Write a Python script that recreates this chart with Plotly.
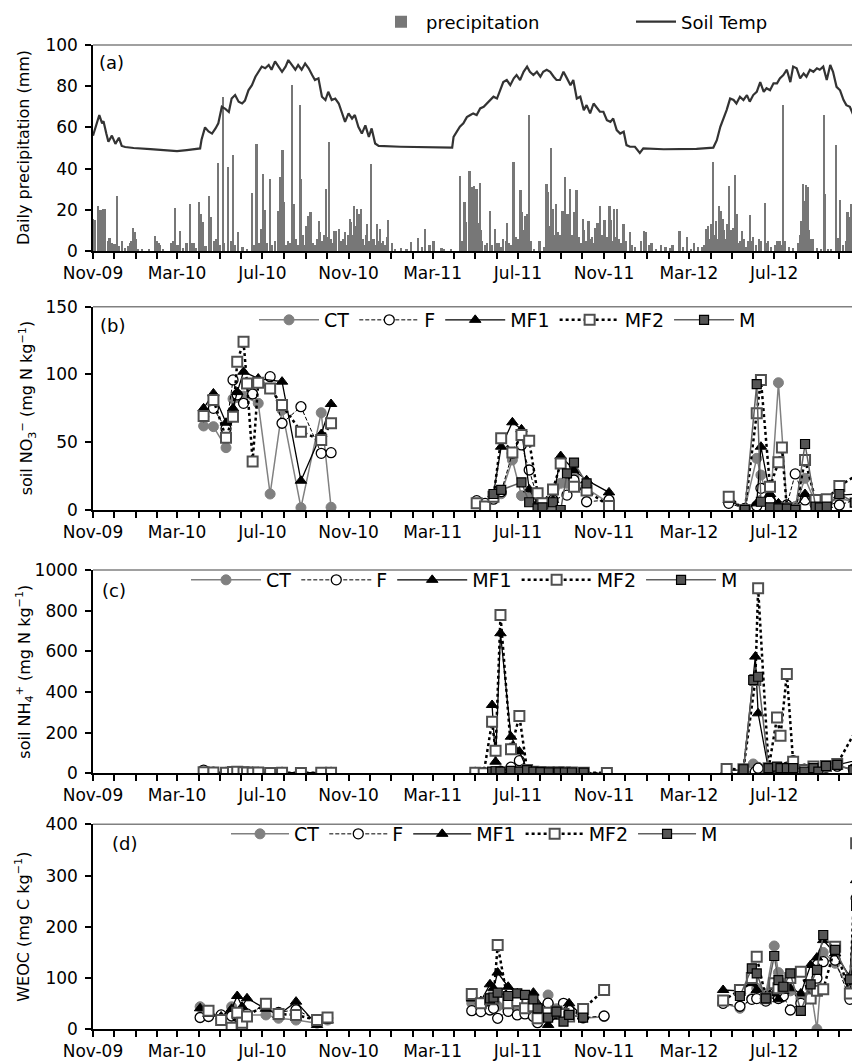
import plotly.graph_objects as go
import pandas as pd

START = pd.Timestamp("2009-11-01")
END = "2012-10-31 12:00"

# ---------------- Panel (a): daily precipitation & soil temperature ----------------
# days since 2009-11-01
precip_day = [0, 3, 7, 11, 15, 17, 18, 22, 24, 27, 29, 31, 35, 38, 42, 46, 50, 53, 55, 58, 60, 62, 64, 70, 80,
              89, 91, 94, 96, 100, 112, 115, 118, 121, 125, 129, 134, 139, 142, 145, 148, 152, 155, 158, 161,
              166, 169, 173, 176, 179, 181, 186, 188, 193, 197, 200, 203, 208, 214, 220, 228, 231, 234, 238,
              240, 243, 246, 249, 253, 256, 260, 265, 268, 271, 273, 276, 279, 281, 284, 285, 288, 290, 293,
              296, 298, 300, 302, 305, 307, 309, 311, 314, 317, 320, 323, 325, 328, 330, 333, 336, 338, 340,
              343, 345, 348, 352, 355, 357, 360, 363, 365, 367, 369, 371, 373, 375, 377, 378, 380, 383, 386,
              388, 390, 392, 395, 398, 401, 403, 406, 408, 410, 412, 415, 418, 420, 422, 427, 432, 440, 448,
              455, 465, 470, 475, 481, 486, 487, 498, 501, 512, 524, 527, 531, 533, 538, 541, 544, 546, 548,
              550, 553, 555, 556, 560, 563, 567, 570, 575, 578, 580, 583, 586, 590, 592, 594, 597, 601, 603,
              605, 608, 611, 613, 615, 617, 619, 621, 623, 626, 630, 638, 645, 648, 650, 652, 654, 657, 659,
              662, 664, 667, 669, 671, 673, 675, 678, 680, 682, 684, 687, 689, 691, 693, 695, 698, 700, 702,
              705, 708, 710, 713, 716, 718, 721, 723, 725, 728, 731, 734, 736, 738, 740, 742, 744, 746, 749,
              752, 755, 758, 760, 762, 767, 770, 774, 783, 787, 790, 795, 798, 805, 812, 818, 824, 828, 838,
              843, 849, 854, 859, 864, 870, 873, 876, 879, 881, 883, 886, 888, 890, 892, 894, 897, 900, 902,
              904, 906, 908, 909, 912, 914, 917, 920, 922, 924, 927, 930, 933, 936, 939, 941, 943, 947, 952,
              955, 960, 962, 964, 969, 975, 978, 981, 984, 986, 989, 994, 1000, 1007, 1010, 1012, 1014, 1016,
              1017, 1019, 1021, 1023, 1025, 1028, 1034, 1040, 1045, 1046, 1050, 1055, 1061, 1064, 1067, 1071,
              1076, 1078, 1081, 1083, 1086, 1089, 1091, 1094]
precip_mm = [15.4, 15, 22, 19.8, 20.3, 14, 20.3, 5, 6.5, 4, 2.5, 3.5, 26.8, 2.5, 5, 1.5, 2.5, 4, 5, 11, 9, 5.7, 1, 0.5, 0.5,
             7.3, 5, 4, 3, 1, 4, 5, 21, 3, 9.8, 1.5, 4, 23, 4, 4, 1.5, 23.6, 18, 14, 2.5,
             26.8, 16.3, 5, 6, 42.5, 3, 75, 4, 41, 5, 46.5, 3, 9, 2, 1, 28, 3, 52, 4,
             10.6, 37.6, 20, 4, 35, 3, 5, 19.5, 35.8, 49, 24, 3, 5, 4, 48, 80.5, 22.8, 6, 3,
             70.7, 35, 8, 3, 12, 17, 6, 18.7, 4, 3, 6, 14.6, 9, 5, 8, 30, 7, 52.8, 6,
             4, 9.8, 9.8, 10.6, 5, 6, 9, 3, 8, 15.4, 14, 8, 22, 12, 20.3, 9, 18, 20.3, 6,
             3, 8, 13, 5, 42, 6, 3, 13, 5, 10.6, 4, 5, 3, 7, 15, 4, 1, 1.3, 1,
             4.4, 6.5, 2, 10.6, 3, 4.9, 5, 1.6, 1, 0.5, 36.6, 5, 24, 14, 39, 31, 31.7, 20, 30,
             13.8, 32.8, 10, 5, 3, 4, 19.5, 3, 10.6, 4, 4, 2, 6, 5, 13.8, 4, 3, 43.4, 4,
             7, 6, 29.6, 18.7, 10, 17, 8, 17.9, 66, 5, 1, 5, 2, 32.5, 28.5, 12, 50, 20.3, 8,
             22.8, 9, 8, 6, 19.5, 15, 36, 17.9, 10, 30, 8, 18.7, 10, 29.6, 6, 7, 4, 15.4, 10,
             5, 14.6, 6, 7, 4, 11, 13.8, 5, 22, 8, 15, 7, 5, 22, 15, 5, 20.3, 7, 20.3,
             6, 4, 13.3, 5, 5, 9, 3, 2, 5, 9.8, 9, 3, 4, 1, 3, 2, 1.5, 3, 9.8,
             2, 7, 1, 4, 2, 2, 3, 10.6, 12, 6, 13, 43.4, 8, 14.6, 6, 22, 19.5, 15.4, 10,
             6, 13.3, 5, 31.7, 10, 11, 37, 18.2, 4, 5, 9.8, 6, 2, 5, 17.6, 5, 7, 3, 6,
             5, 23.4, 4, 5, 2, 3, 5, 5, 3, 71, 5, 2, 1.5, 4, 8, 14.6, 32.5, 20,
             24.4, 32.2, 31, 10, 6, 6, 1.5, 1, 66, 27.6, 1, 1, 51.5, 6.5, 25, 3,
             5, 19, 16.6, 22.8, 24.4, 9, 14, 34]

temp_day = [0, 6, 9, 13, 15, 19, 22, 27, 32, 37, 41, 46, 58, 82, 106, 120, 134, 153, 155, 160, 165, 170, 175,
            179, 184, 189, 194, 198, 203, 208, 213, 217, 222, 227, 232, 236, 241, 246, 251, 255, 260, 265, 270,
            275, 279, 284, 289, 293, 298, 303, 308, 313, 317, 322, 327, 332, 336, 341, 346, 351, 355, 360, 365,
            370, 374, 379, 384, 389, 394, 398, 403, 408, 439, 482, 513, 515, 520, 524, 529, 534, 539, 543, 548,
            553, 558, 563, 567, 572, 577, 582, 586, 591, 596, 601, 605, 610, 615, 620, 624, 629, 634, 639, 643,
            648, 653, 658, 662, 667, 672, 677, 682, 686, 691, 696, 701, 705, 710, 715, 720, 724, 729, 734, 739,
            743, 748, 753, 758, 762, 767, 774, 781, 786, 815, 862, 886, 891, 896, 900, 905, 910, 915, 919, 924,
            929, 934, 938, 943, 948, 953, 958, 962, 967, 972, 977, 981, 986, 991, 996, 1000, 1005, 1010, 1015,
            1019, 1024, 1029, 1034, 1038, 1043, 1048, 1053, 1057, 1062, 1067, 1072, 1076, 1081, 1086, 1091, 1096]
temp_val = [56, 62, 66, 62, 63, 57, 53, 56, 52, 55, 51, 50.5, 50, 49.5, 49, 48.5, 49, 49.8, 54, 60, 58, 57, 59.5,
            62, 70, 69, 67.5, 74, 75.7, 72.5, 71.6, 73, 78, 80.5, 84.6, 87, 89.5, 88.7, 90.3, 88, 92, 89.5, 87,
            89.5, 92.7, 90.3, 88, 90.3, 88, 91, 88.7, 85.4, 83, 83.8, 74.9, 73.3, 77.3, 73.3, 74, 71.6, 67.6, 62.7, 66.8,
            64.3, 66, 60.3, 57, 61, 55.4, 59.5, 52.2, 51, 50.6, 50.3, 50.2, 55.4, 57.9, 60.3, 62, 65, 66, 66.8, 66,
            69.2, 70, 71.6, 73.3, 74.9, 74, 78, 82, 83, 80.5, 83.8, 85.4, 83, 87, 89.5, 87, 85.4, 87, 84.6, 87,
            88, 87, 84.6, 83, 83, 87, 83.8, 80.5, 83, 74, 74.9, 68.4, 70.8, 66.8, 71.6, 69.2, 67.6, 67.6, 63.5, 62.7,
            64.3, 58.7, 57, 57.9, 51.4, 50.6, 50.6, 47.6, 49.8, 49.4, 49.6, 50.2, 53.8, 60.3, 63.5, 68.4, 74, 73.3, 71.6, 74.9,
            73.3, 75.7, 72.5, 75.7, 77.3, 82, 77.3, 79, 78, 81.4, 81.4, 83.8, 85.4, 88, 82, 89.5, 88.7, 83.8, 86.2,
            84.6, 88, 87, 88.7, 88, 89.5, 83, 90.3, 87, 79.7, 78, 73.3, 70.8, 70, 66, 64.3, 65]

# ---------------- Treatments ----------------
treatments = ["CT", "F", "MF1", "MF2", "M"]

# Panel (b): soil NO3- (mg N kg-1)
no3_day_2010 = [158, 172, 190, 200, 206, 215, 220, 228, 236, 253, 270, 297, 326, 340]
no3_2010 = {
    "CT":  [62, 61.5, 46, 82, 83, 84, None, None, 78.7, 11.8, 73.8, 1.7, 71.8, 2],
    "F":   [69, 75, 60, 96, 85, 78.7, None, 85.6, None, 98.4, 64, 76.2, 41.8, 42.3],
    "MF1": [75, 86, 64.4, 75, 87, 102, None, None, 97, None, 94.7, 21.6, 56, 78.2],
    "MF2": [69.3, 81.1, 53.4, 68.8, 109.4, 124.2, 93.4, 35.7, 93.9, 89.7, 77.5, 57.8, 51.6, 64],
    "M":   [None] * 14,
}
no3_day_2011 = [548, 560, 572, 583, 599, 612, 623, 635, 642, 657, 668, 677, 687, 705, 737]
no3_2011 = {
    "CT":  [5.7, 3.7, 9, 12, 36.9, 10.6, 9.3, 5, None, 0.7, 19.7, 19.7, 24.6, 16, 5],
    "F":   [6.9, 4.9, 8, 13.5, 41.8, 48, 29.5, 8.6, None, 7.4, None, 11, 22, 6.1, 7.4],
    "MF1": [None, None, 11.8, 46.7, 64.7, 59.5, 15.2, 4.9, None, 7.4, 39.8, None, 29.5, 22, 13],
    "MF2": [4.9, 2.5, 9.8, 52.9, 42.5, 55.3, 51.1, 12.3, 4.9, 15.2, 34.4, None, 17.2, 14.3, 3],
    "M":   [None, None, 11.8, 14.8, None, 20.4, 5.7, 1.2, 2, 5.7, 0, 27, 35, 19.7, None],
}
no3_day_2012 = [908, 931, 948, 954, 967, 979, 984, 991, 1003, 1017, 1032, 1038, 1048, 1066, 1088, 1096]
no3_2012 = {
    "CT":  [8.6, 1.2, 38.1, 25.8, 0, 93.9, None, 3.7, 2.5, 23.4, 4.9, None, 4.9, 8.6, None, 4.9],
    "F":   [4.9, 1.2, 3, 16, 7.4, 3, None, 3.7, 26.6, 7.4, 3.7, None, 6.1, 3.7, None, 8.6],
    "MF1": [7.4, 0.7, 4.9, 46.7, 11.8, 4.9, None, 3, 1.2, 11.8, 0.5, None, 3.7, 11, None, 11.8],
    "MF2": [9.8, 0, 71.3, 95.9, 17.2, 35.2, 46.2, 1.2, 0, 36.9, 7.4, None, 7.9, 17.7, None, 27.5],
    "M":   [None, 0, 92.9, 6.1, 2, 1.2, None, 1, 0, 48.7, 2.5, 2, 2.5, 11.8, 5.4, 6.9],
}

# Panel (c): soil NH4+ (mg N kg-1)
nh4_day_2010 = no3_day_2010
nh4_2010 = {
    "CT":  [5, 4, 3, 5, 6, 4, 3, 3, 4, 2, 3, 2, 2, 3],
    "F":   [16, 6, 5, 7, 8, 5, 4, 4, 5, 3, 4, 3, 3, 4],
    "MF1": [6, 5, 4, 8, 10, 6, 5, 4, 5, 3, 4, 3, 3, 4],
    "MF2": [5, 4, 3, 6, 8, 5, 4, 3, 4, 2, 3, 2, 3, 3],
    "M":   [None] * 14,
}
nh4_day_2011 = [546, 558, 570, 575, 582, 597, 609, 620, 629, 639, 651, 665, 674, 684, 701, 734]
nh4_2011 = {
    "CT":  [3, 2, 4, 5, 6, 8, 10, 6, 4, 4, 3, 3, 3, 3, 2, 2],
    "F":   [5, 3, 5, 6, 10, 30, 62, 15, 6, 5, 4, 4, 3, 3, 3, 3],
    "MF1": [None, None, 336, 57, 689, 180, 107, 20, 8, 6, 5, 5, 4, 4, 3, None],
    "MF2": [3, 0, 254, 111, 779, 118, 282, 16, 8, 6, 5, 5, 4, 4, 3, 2],
    "M":   [None, None, 8, 10, 8, 12, 8, 16, 8, 6, 5, 5, 4, 4, 3, None],
}
nh4_day_2012 = [905, 929, 943, 946, 950, 965, 977, 982, 991, 1000, 1016, 1029, 1036, 1047, 1063, 1086, 1093]
nh4_2012 = {
    "CT":  [None, 20, 46, None, 30, 20, 25, 25, 25, 30, 20, 25, None, 30, 35, 20, 30],
    "F":   [None, 8, None, 8, 25, 20, 25, 25, 30, 62, 20, 25, None, 30, 35, 20, 40],
    "MF1": [16, 16, None, 574, 295, 16, 25, 28, 28, 33, 20, 25, None, 30, 41, None, 66],
    "MF2": [21, 20, None, 459, 910, 25, 274, 185, 489, 57, 16, 33, None, 36, 46, None, 233],
    "M":   [None, 20, 459, None, 475, 25, 33, 25, 25, 25, 8, 25, 8, 36, 41, 16, 74],
}

# Panel (d): WEOC (mg C kg-1)
weoc_day_2010 = [153, 165, 183, 198, 206, 213, 220, 247, 265, 290, 320, 335]
weoc_2010 = {
    "CT":  [44, 30, 25, 44, 30, 25, 28, 28, 21.5, 18, 12, 18],
    "F":   [23, 25, 28, 26, 25, 0, 30, 47.5, 33, 38, 18, 21.5],
    "MF1": [41, 30, 25, 40, 65, 44, 60.5, 40, 28, 54, 8.5, 17],
    "MF2": [None, 36.4, 18, 3, 32.5, 13, 25, 50, 30, 28, 18, 23],
    "M":   [None] * 12,
}
weoc_day_2011 = [541, 554, 567, 572, 578, 593, 606, 617, 629, 635, 650, 662, 672, 680, 700, 730]
weoc_2011 = {
    "CT":  [51, 45, 50, 48, 45, 34.5, 45, 40, 38, 35, 67, 40, 35, 30, 21.5, 24.7],
    "F":   [36.4, 34.5, 37.7, 41, 21.5, 35, 28, 30, 25, 13, 51, 30, 50.7, 37.7, 22.8, 26],
    "MF1": [60, 55, 87.8, 80, 110.6, 83, 70, 65, 71.5, 50, 8.5, 25, 30, 50.7, 25, None],
    "MF2": [69, 51, 58.5, 60, 164.6, 51, 55, 41, 45, 21.5, 32.5, 34.5, 30, 25, 39.7, 76.7],
    "M":   [None, None, 60.5, 62, 71.5, 65, 70, 67, 58.5, 41, 22.8, 34.5, 15, 28, 22.8, None],
}
weoc_day_2012 = [900, 924, 941, 948, 961, 973, 979, 986, 996, 1011, 1025, 1034, 1043, 1060, 1081, 1090, 1093]
weoc_2012 = {
    "CT":  [50.7, 41, 60, 80, 70, 162.6, 110.6, 90, 75, 60, 80, 0, 150, 128.8, 76.7, 132, 120],
    "F":   [50.7, 45, 58.5, 60, 55, 70, 60, 65, 37.7, 50.7, 60, 100, 132, 135, 58.5, 255.6, 200],
    "MF1": [76.7, 75, 90, 76.7, 65, 70, 58.5, 75, 80, 70, 125.5, 140, 174, 148, 102.8, 291, 161],
    "MF2": [56, 76.7, 100, 141.8, 60.5, 90, 80, 83, 100, 112.5, 60, 75, 78, 161, 70, 363, 379],
    "M":   [None, 65, 119, 109, 60.5, 143, 96, 83, 109, 35.8, 87.8, 115.8, 184, 154.8, 97.6, 240.7, 180.8],
}

# ---------------- Styles ----------------
FONT = "DejaVu Sans, Liberation Sans, Arial"
styles = {
    "CT":  dict(line=dict(color="#808080", width=1.5),
                marker=dict(symbol="circle", size=10, color="#808080", line=dict(color="#808080", width=1))),
    "F":   dict(line=dict(color="black", width=1, dash="4px,2px"),
                marker=dict(symbol="circle", size=10, color="white", line=dict(color="black", width=1.3))),
    "MF1": dict(line=dict(color="black", width=1.3),
                marker=dict(symbol="triangle-up", size=10, color="black", line=dict(color="black", width=1))),
    "MF2": dict(line=dict(color="black", width=2.5, dash="dot"),
                marker=dict(symbol="square", size=10, color="white", line=dict(color="#505050", width=2))),
    "M":   dict(line=dict(color="#606060", width=1.5),
                marker=dict(symbol="square", size=9, color="#555555", line=dict(color="black", width=1.2))),
}

def to_dates(days):
    return [START + pd.Timedelta(days=d) for d in days]

# The page places the figure at an 8 px offset; figure is 852 x 1054.
FIG_W, FIG_H, OFF = 852, 1054, 8
L = 93 - OFF
W = FIG_W - L

def px(xpage):
    return (xpage - 93) / W

def py(ypage):
    return (FIG_H - (ypage - OFF)) / FIG_H

# panel (top, bottom) in page pixels
panel_px = {1: (45, 251), 2: (306.7, 510), 3: (570, 773.3), 4: (824.3, 1029.3)}
domains = {i: [py(b), py(t)] for i, (t, b) in panel_px.items()}

fig = go.Figure()

# Panel (a)
fig.add_trace(go.Bar(x=to_dates(precip_day), y=precip_mm, name="precipitation",
                     marker=dict(color="#777777", line=dict(width=0)),
                     width=[2.4 * 86400000] * len(precip_day),
                     xaxis="x", yaxis="y", legend="legend"))
fig.add_trace(go.Scatter(x=to_dates(temp_day), y=temp_val, name="Soil Temp", mode="lines",
                         line=dict(color="#333333", width=2.2),
                         xaxis="x", yaxis="y", legend="legend5"))

def add_panel(groups, xa, ya, leg):
    for t in treatments:
        xs, ys = [], []
        for days, vals in groups:
            pts = [(d, v) for d, v in zip(days, vals[t]) if v is not None]
            if not pts:
                continue
            if xs:
                xs.append(None)
                ys.append(None)
            xs += [START + pd.Timedelta(days=d) for d, _ in pts]
            ys += [v for _, v in pts]
        st = styles[t]
        fig.add_trace(go.Scatter(x=xs, y=ys, name=t, mode="lines+markers",
                                 line=st["line"], marker=st["marker"], connectgaps=False,
                                 xaxis=xa, yaxis=ya, legend=leg))

add_panel([(no3_day_2010, no3_2010), (no3_day_2011, no3_2011), (no3_day_2012, no3_2012)], "x2", "y2", "legend2")
add_panel([(nh4_day_2010, nh4_2010), (nh4_day_2011, nh4_2011), (nh4_day_2012, nh4_2012)], "x3", "y3", "legend3")
add_panel([(weoc_day_2010, weoc_2010), (weoc_day_2011, weoc_2011), (weoc_day_2012, weoc_2012)], "x4", "y4", "legend4")

tickfont = dict(family=FONT, size=17, color="black")
xcommon = dict(type="date", range=[START, END], tick0="2009-11-01", dtick="M4", tickformat="%b-%y",
               ticks="outside", ticklen=6, tickwidth=1.5, tickcolor="black",
               showline=True, linecolor="black", linewidth=1.5, showgrid=False, zeroline=False,
               tickfont=tickfont, automargin=False,
               minor=dict(dtick="M1", tick0="2009-11-01", ticks="outside", ticklen=6, tickwidth=1.5,
                          tickcolor="black", showgrid=False))
yranges = {1: ([0, 100], 20), 2: ([0, 150], 50), 3: ([0, 1000], 200), 4: ([0, 400], 100)}

layout = dict(width=FIG_W, height=FIG_H, margin=dict(l=L, r=0, t=0, b=0, autoexpand=False),
              paper_bgcolor="white", plot_bgcolor="white", bargap=0,
              font=dict(family=FONT, size=17, color="black"), showlegend=True)
for i in range(1, 5):
    xn = "xaxis" if i == 1 else f"xaxis{i}"
    yn = "yaxis" if i == 1 else f"yaxis{i}"
    ya = "y" if i == 1 else f"y{i}"
    layout[xn] = dict(xcommon, anchor=ya, domain=[0, 1])
    r, dt = yranges[i]
    layout[yn] = dict(range=r, dtick=dt, tick0=0, ticks="outside", ticklen=6, tickwidth=1.5, tickcolor="black",
                      showline=True, linecolor="black", linewidth=1.5, showgrid=False, zeroline=False,
                      tickfont=tickfont, domain=domains[i], anchor="x" if i == 1 else f"x{i}",
                      ticklabelstandoff=4, automargin=False)

legfont = dict(family=FONT, size=19, color="black")
base_leg = dict(orientation="h", xanchor="left", yanchor="middle", font=legfont,
                bgcolor="rgba(0,0,0,0)", itemwidth=62)
layout["legend"] = dict(base_leg, x=px(376), y=py(22), itemwidth=40, font=dict(legfont, size=18))
layout["legend5"] = dict(base_leg, x=px(631), y=py(22), itemwidth=40, font=dict(legfont, size=18))
layout["legend2"] = dict(base_leg, x=px(254), y=py(320), itemwidth=60)
layout["legend3"] = dict(base_leg, x=px(186), y=py(580), itemwidth=70)
layout["legend4"] = dict(base_leg, x=px(226), y=py(834), itemwidth=58)
fig.update_layout(**layout)

# top border lines of each panel
for i in range(1, 5):
    top = domains[i][1]
    fig.add_shape(type="line", xref="paper", yref="paper", x0=0, x1=1, y0=top, y1=top,
                  line=dict(color="#808080", width=1.5))

# panel letters
letters = [("(a)", px(97), py(62)), ("(b)", px(98), py(325)), ("(c)", px(100), py(590)), ("(d)", px(110), py(843))]
for txt, xx, yy in letters:
    fig.add_annotation(text=txt, x=xx, y=yy, xref="paper", yref="paper", xanchor="left", yanchor="middle",
                       showarrow=False, font=dict(family=FONT, size=18, color="black"))

# y-axis titles
ytitles = [("Daily precipitation (mm)", px(23), 1),
           ("soil NO<sub>3</sub><sup>−</sup> (mg N kg<sup>−1</sup>)", px(27), 2),
           ("soil NH<sub>4</sub><sup>+</sup> (mg N kg<sup>−1</sup>)", px(25), 3),
           ("WEOC (mg C kg<sup>−1</sup>)", px(23), 4)]
for txt, xx, i in ytitles:
    fig.add_annotation(text=txt, x=xx, y=sum(domains[i]) / 2, xref="paper", yref="paper",
                       xanchor="center", yanchor="middle", textangle=-90, showarrow=False,
                       font=dict(family=FONT, size=16, color="black"))

fig.write_html("out.html")
